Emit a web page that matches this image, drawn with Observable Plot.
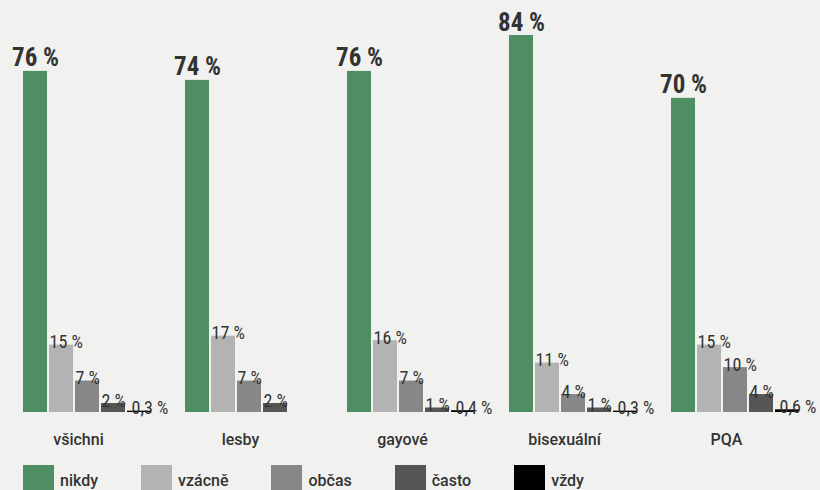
<!DOCTYPE html>
<html>
<head>
<meta charset="utf-8">
<script src="https://cdn.jsdelivr.net/npm/d3@7"></script>
<script src="https://cdn.jsdelivr.net/npm/@observablehq/plot@0.6"></script>
<style>
  html, body { margin: 0; padding: 0; background: #f1f2ef; }
  body { width: 820px; height: 490px; overflow: hidden; font-family: Roboto, sans-serif; }
  #legend { display: flex; margin-top: 13px; padding-left: 23px; }
  .item { display: flex; align-items: flex-start; margin-right: 43px; font-size: 16px; color: #333; }
  .item span { padding-top: 6px; font-weight: 500; }
  .sw { width: 31px; height: 25px; margin-right: 6px; }
  .narrow { font-family: "Liberation Sans Narrow", "Roboto Condensed", "DejaVu Sans Condensed", sans-serif; }
</style>
</head>
<body>
<div id="chart"></div>
<div id="legend"></div>
<script>
const groups = ["všichni", "lesby", "gayové", "bisexuální", "PQA"];
const series = ["nikdy", "vzácně", "občas", "často", "vždy"];
const colors = ["#4f8e63", "#b3b3b3", "#878787", "#555555", "#000000"];
const nikdy  = [76, 74, 76, 84, 70];
const vzacne = [15, 17, 16, 11, 15];
const obcas  = [7, 7, 7, 4, 10];
const casto  = [2, 2, 1, 1, 4];
const vzdy   = [0.3, null, 0.4, 0.3, 0.6];

const cols = [nikdy, vzacne, obcas, casto, vzdy];
const data = [];
groups.forEach((g, gi) => {
  series.forEach((s, si) => {
    const v = cols[si][gi];
    if (v != null) data.push({group: g, series: s, value: v});
  });
});
const fmt = v => String(v).replace(".", ",") + " %";

const chart = Plot.plot({
  width: 820,
  height: 452,
  marginTop: 35,
  marginBottom: 40,
  marginLeft: 23,
  marginRight: 21,
  style: {background: "transparent", fontFamily: "Roboto, sans-serif"},
  fx: {domain: groups, paddingInner: 0.21, paddingOuter: 0, label: null},
  x: {domain: series, paddingInner: 0.077, paddingOuter: 0, axis: null},
  y: {domain: [0, 84], axis: null},
  color: {domain: series, range: colors},
  marks: [
    Plot.barY(data, {fx: "group", x: "series", y: "value", fill: "series"}),
    Plot.text(data.filter(d => d.series === "nikdy"), {
      fx: "group", x: "series", y: "value", text: d => fmt(d.value),
      dy: -5, lineAnchor: "bottom", fontSize: 25, fontWeight: "bold", fill: "#333", className: "narrow"
    }),
    Plot.text(data.filter(d => d.series !== "nikdy" && d.series !== "vždy"), {
      fx: "group", x: "series", y: "value", text: d => fmt(d.value),
      dx: -12, dy: 3, textAnchor: "start", lineAnchor: "bottom", fontSize: 18, fill: "#333", className: "narrow"
    }),
    Plot.text(data.filter(d => d.series === "vždy"), {
      fx: "group", x: "series", y: "value", text: d => fmt(d.value),
      dx: -8, dy: 3, textAnchor: "start", lineAnchor: "bottom", fontSize: 18, fill: "#333", className: "narrow"
    }),
    Plot.axisFx({anchor: "bottom", tickSize: 0, tickPadding: 21, fontSize: 16, fontWeight: 500, fill: "#333", dx: -9, label: null})
  ]
});
document.getElementById("chart").append(chart);

const legend = document.getElementById("legend");
series.forEach((s, i) => {
  const it = document.createElement("div");
  it.className = "item";
  const sw = document.createElement("div");
  sw.className = "sw";
  sw.style.background = colors[i];
  const t = document.createElement("span");
  t.textContent = s;
  it.append(sw, t);
  legend.append(it);
});
</script>
</body>
</html>
